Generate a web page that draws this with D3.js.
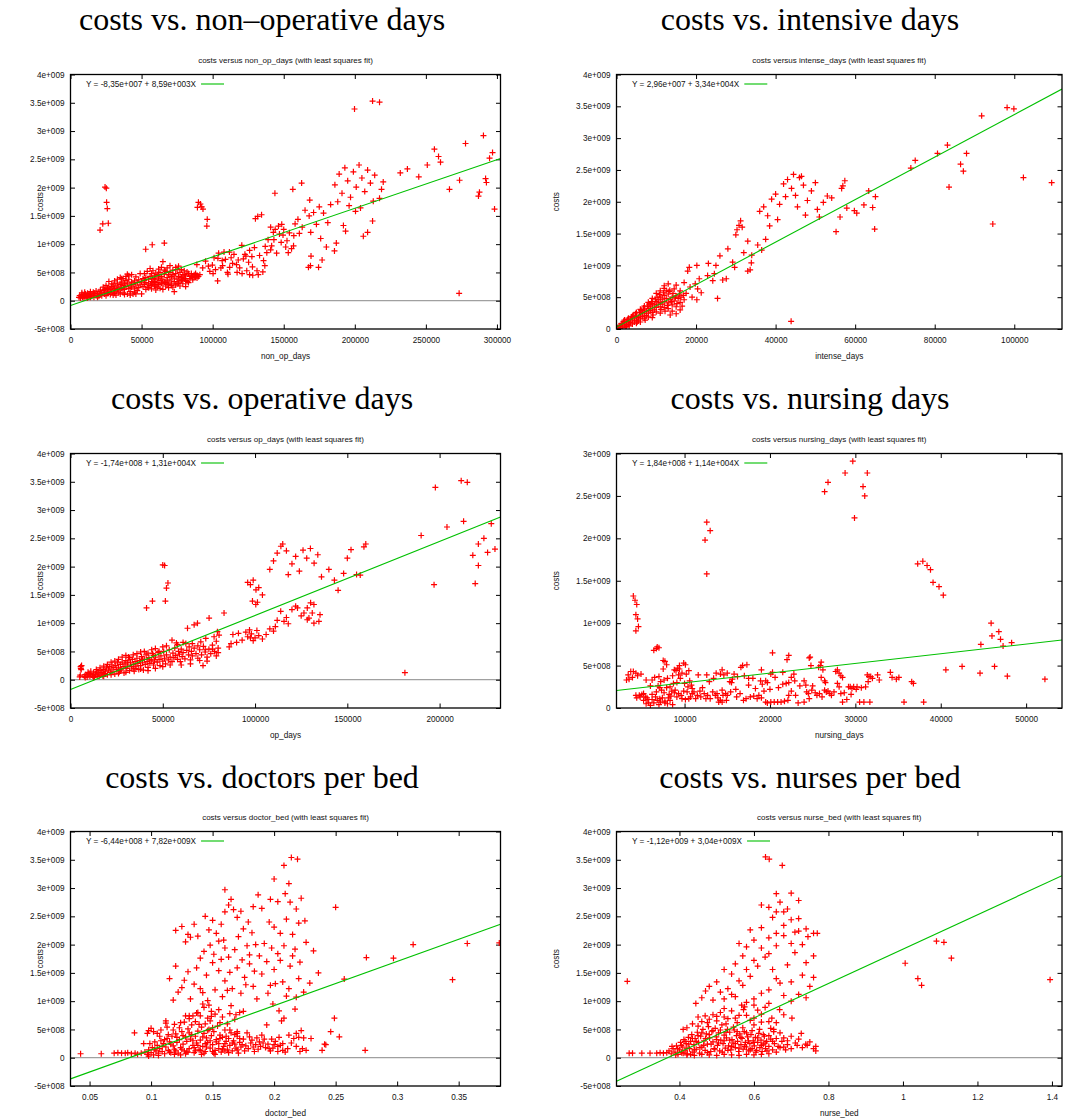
<!DOCTYPE html>
<html>
<head>
<meta charset="utf-8">
<script src="https://cdn.jsdelivr.net/npm/d3@7"></script>
<style>
  body { margin: 0; background: #fff; }
  svg text { font-family: "Liberation Sans", Arial, sans-serif; fill: #111; }
  .bigtitle { font-family: "Liberation Serif", "Times New Roman", serif; font-size: 32px; fill: #000; }
</style>
</head>
<body>
<svg id="chart" width="1071" height="1119"></svg>
<script>
// costs are kept in units of 1e8 in the point lists below

const costTicks = [-5e8, 0, 5e8, 1e9, 1.5e9, 2e9, 2.5e9, 3e9, 3.5e9, 4e9];
const costTickLabels = ['-5e+008', '0', '5e+008', '1e+009', '1.5e+009', '2e+009', '2.5e+009', '3e+009', '3.5e+009', '4e+009'];

const nonOpTicks = [0, 50000, 100000, 150000, 200000, 250000, 300000];
const intenseTicks = [0, 20000, 40000, 60000, 80000, 100000];
const opTicks = [0, 50000, 100000, 150000, 200000];
const nursingTicks = [10000, 20000, 30000, 40000, 50000];
const doctorTicks = [0.05, 0.1, 0.15, 0.2, 0.25, 0.3, 0.35];
const nurseTicks = [0.4, 0.6, 0.8, 1, 1.2, 1.4];

const nonOpDays = [
  [6000,0.6],[6500,0.9],[7000,0.5],[7500,0.8],[8000,1.1],[8500,0.6],[9000,0.9],[9500,0.5],[10000,0.8],[10500,1.2],
  [11000,0.6],[11500,0.9],[12000,0.5],[12500,1.1],[13000,0.7],[13500,1.0],[14000,0.6],[14500,1.2],[15000,0.8],[16000,1.0],
  [16500,0.6],[17000,1.3],[18000,0.9],
  [19000,1.2],[20000,0.8],[20000,1.6],[21000,1.1],[22000,1.4],[22000,0.9],[23000,1.8],[24000,1.2],[24000,2.0],[25000,1.5],
  [25000,0.9],[26000,2.2],[26000,1.3],[27000,1.7],[27000,3.4],[28000,2.0],[28000,1.1],[29000,2.5],[29000,1.5],[30000,1.9],
  [30000,2.8],[31000,1.3],[31000,2.2],[32000,2.6],[32000,1.7],[33000,3.1],[33000,2.0],[34000,1.5],[34000,2.4],[35000,2.9],
  [35000,1.9],[36000,3.3],[36000,2.2],[37000,1.4],[37000,2.7],[38000,3.0],[38000,2.0],[39000,3.6],[39000,2.5],[40000,1.2],
  [40000,3.1],[41000,2.2],[41000,3.8],[42000,2.8],[42000,1.6],[43000,3.3],[43000,2.4],[44000,1.2],[44000,2.9],[45000,3.5],
  [45000,2.1],[46000,2.6],[46000,1.2],[47000,3.2],[48000,2.3],[48000,3.7],[49000,2.8],[50000,3.3],[50000,1.2],[39000,4.3],
  [41000,4.4],[36000,3.9],
  [8000,1.4],[10000,1.5],[12000,1.3],[14000,1.6],[16000,1.5],[18000,1.7],[19000,0.6],[21000,1.9],[23000,2.4],[25000,2.7],
  [27000,2.4],[29000,3.0],[31000,3.5],[33000,3.8],[35000,4.1],[37000,3.9],[40000,4.7],[43000,4.6],[46000,4.2],[49000,4.8],
  [47000,1.8],[45000,1.5],[42000,1.0],[38000,1.1],[35000,1.2],[32000,1.0],[30000,1.0],
  [51000,2.5],[52000,3.6],[52000,2.9],[53000,4.1],[53000,3.2],[54000,2.4],[55000,3.8],[55000,3.0],[56000,4.3],[56000,2.7],
  [57000,3.4],[57000,4.8],[58000,3.9],[58000,2.9],[59000,4.4],[59000,3.4],[60000,3.8],[60000,2.6],[61000,4.6],[61000,3.2],
  [62000,4.0],[62000,2.9],[63000,5.0],[63000,3.6],[64000,4.3],[64000,3.1],[65000,6.9],[65000,3.8],[65000,2.0],[66000,4.7],
  [66000,3.3],[67000,5.2],[67000,2.6],[68000,4.1],[68000,3.5],[69000,4.6],[69000,2.9],[70000,5.0],[70000,3.7],[71000,4.3],
  [71000,3.1],[72000,5.4],[72000,2.4],[73000,4.0],[73000,3.4],[74000,4.8],[74000,2.8],[75000,5.5],[75000,3.8],[76000,4.3],
  [76000,3.1],[77000,5.0],[77000,2.6],[78000,4.1],[78000,3.6],[79000,4.6],[79000,3.0],[80000,5.3],[80000,3.9],[81000,4.4],
  [81000,2.5],[82000,3.4],[83000,4.8],[84000,3.9],[85000,4.4],[86000,4.1],[87000,4.6],[88000,4.2],[89000,4.5],[90000,4.3],
  [73000,1.6],[60000,1.9],
  [52000,4.8],[54000,5.2],[56000,5.7],[58000,5.3],[60000,4.9],[62000,5.6],[64000,5.9],[66000,5.4],[68000,5.8],[70000,6.2],
  [72000,4.6],[74000,5.9],[76000,6.1],[78000,5.5],[80000,4.6],[82000,5.1],[84000,4.3],[86000,3.7],[88000,4.8],[53000,2.0],
  [55000,2.3],[57000,2.1],[59000,2.6],[61000,2.4],[63000,2.2],[65000,3.0],[67000,3.2],[69000,2.3],[71000,2.7],[75000,3.0],
  [77000,3.5],[79000,3.8],[81000,3.6],[83000,3.2],[85000,4.8],[87000,4.2],[89000,4.0],[91000,4.6],[62000,4.6],[68000,2.9],
  [58000,3.2],[51000,3.9],
  [24300,20.1],[25200,19.9],[25400,17.4],[25900,16.3],[22700,13.6],[26600,13.7],[20800,12.5],[52900,9.1],[57500,9.9],[66000,10.2],
  [89300,16.5],[90000,17.4],[91400,17.1],[92300,16.6],[93200,16.2],[96200,14.4],[95900,13.2],[88900,6.4],[99800,6.3],[104200,8.4],
  [103700,7.5],[105800,5.8],[106700,7.1],[103500,3.5],[100300,4.8],[111800,8.6],[116800,6.4],[110400,5.0],[110800,4.7],[117200,5.0],
  [120700,4.8],[120500,9.8],[122700,8.2],[121600,7.4],[123400,7.9],[127600,7.8],[125300,6.8],[129400,9.4],[130100,14.5],[131700,14.9],
  [134400,15.2],[126000,4.6],[128200,4.5],[131200,5.3],[132100,4.6],[135300,5.1],[136700,6.2],[135800,7.1],[138100,8.5],[140800,9.0],
  [141500,9.7],[143100,10.8],[142700,12.1],[140800,13.0],[144000,12.6],[146300,13.2],[148600,13.5],[143800,19.0],[148200,10.3],[149500,11.6],
  [151400,9.5],[152300,10.6],[153200,8.5],[155500,9.2],[156900,9.7],[157100,11.5],[161000,11.9],[156400,19.7],[162600,20.8],[168300,17.8],
  [167900,15.0],[169000,12.1],[169200,7.9],[168800,6.2],[167400,5.9],
  [93000,5.8],[95000,7.0],[97000,6.1],[98000,5.2],[101000,7.6],[102000,5.5],[107000,6.2],[108000,8.6],[109000,7.3],[112000,5.9],
  [113000,7.6],[114000,6.6],[115000,8.2],[118000,7.2],[119000,5.8],[124000,5.3],[126000,8.9],[128000,6.0],[133000,8.0],[137000,9.6],
  [139000,10.8],[145000,8.4],[147000,11.8],[150000,12.6],[154000,12.0],[158000,13.6],[160000,14.4],[163000,13.0],[165000,16.0],[171000,15.6],
  [173000,13.5],[175000,16.6],
  [177000,7.2],[174500,5.9],[185700,8.8],[187000,10.2],[192000,13.3],[193500,12.3],[200500,15.8],[206000,11.4],[209000,12.1],[212500,14.1],
  [217400,18.1],[218800,19.7],[220000,21.0],[199800,33.9],[212500,35.3],[217400,35.1],
  [186000,20.5],[189000,22.4],[191000,19.0],[193000,23.5],[195000,21.2],[197000,18.3],[199000,22.8],[201000,20.1],[203000,24.0],[205000,21.7],
  [207000,19.3],[209000,23.1],[211000,20.8],[213000,17.6],[214000,22.2],[196000,16.8],[188000,17.5],[204000,16.4],
  [178000,15.5],[181000,13.8],[183000,17.0],[176000,11.0],[180000,9.5],
  [237000,23.3],[256000,26.8],[258900,25.5],[260300,24.5],[266600,19.7],[273700,21.3],[277900,27.8],[290500,29.2],[292000,21.6],[292600,20.9],
  [287700,19.2],[287000,18.5],[294800,25.2],[296900,26.2],[298300,16.2],[251000,24.0],[273400,1.3],[232000,22.6],[245000,21.9]
];

const intenseDays = [
  [500,0.2],[1000,0.5],[1000,0.1],[1500,0.8],[1500,0.3],[2000,0.6],[2000,1.1],[2500,0.4],[2500,0.9],[3000,1.2],
  [3000,0.7],[3500,1.0],[3500,1.5],[4000,1.3],[4000,0.8],[4500,1.7],[4500,1.1],[5000,1.4],[5000,2.0],[5000,0.9],
  [5500,1.8],[5500,1.3],[6000,2.2],[6000,1.6],[6000,1.1],[6500,2.0],[6500,2.6],[7000,1.7],[7000,2.4],[7000,3.0],
  [7500,2.1],[7500,2.8],[8000,2.5],[8000,3.2],[8000,1.9],[8500,2.9],[8500,3.6],[9000,2.6],[9000,3.3],[9000,4.0],
  [9500,3.0],[9500,3.8],[10000,3.4],[10000,4.3],[10000,2.7],[10500,3.9],[10500,4.6],[11000,3.5],[11000,4.2],[11000,5.0],
  [11500,3.9],[11500,4.7],[12000,4.3],[12000,5.3],[12000,3.4],[12500,4.8],[13000,4.1],[13000,5.5],[13500,4.6],[14000,5.0],
  [14000,3.8],[14500,4.4],[15000,5.2],[15500,4.8],[16000,4.2],[13000,3.2],[14000,2.8],[11000,2.5],[12500,6.0],[15000,3.5],
  [9000,1.8],[16500,3.6],[17000,4.6],
  [700,0.5],[1200,0.8],[1800,1.2],[2200,0.3],[2800,1.5],[3200,0.5],[3800,1.9],[4200,2.2],[4800,2.4],[5200,1.1],
  [5800,2.6],[6200,2.9],[6800,3.3],[7200,1.4],[7800,3.6],[8200,3.9],[8800,4.3],[9200,2.2],[9800,4.6],[10200,5.0],
  [10800,5.4],[11200,3.1],[11800,5.7],[12200,2.8],[12800,3.7],[13200,5.9],[13800,4.3],[14200,5.6],[14800,4.9],[15200,4.0],
  [15800,5.5],[16200,5.0],[16800,5.3],[7000,3.6],[8000,4.2],[9000,4.8],[10000,5.6],[11000,6.0],[6000,3.1],[5000,2.6],
  [4000,2.0],[3000,1.7],[2000,1.4],[12000,6.8],[13000,7.1],[14500,6.3],[16000,6.0],[17500,5.6],[18500,6.6],[19000,5.0],
  [17000,7.3],[16000,3.0],[15000,2.4],[13500,2.2],
  [12000,6.4],[15000,6.9],[13400,6.1],[18300,9.7],[17900,9.1],[20200,10.0],[19800,7.1],[20800,7.9],[20400,6.3],[20200,4.6],
  [21300,5.7],[23100,10.3],[22900,8.4],[24200,7.6],[25000,10.0],[24600,8.7],[25400,4.8],[26700,7.7],[27600,7.9],[29200,10.5],
  [29700,9.7],[33900,10.4],[33000,9.1],[33600,9.3],[43900,1.2],
  [26000,11.5],[28000,12.6],[30300,15.6],[30800,16.3],[31200,17.0],[31600,16.0],[30000,14.8],[32000,12.0],[34000,11.6],[35500,13.2],
  [36500,12.4],[37500,14.1],[33000,13.8],
  [36000,18.5],[37000,19.2],[38000,17.8],[39000,20.4],[40000,21.2],[41000,19.6],[42000,22.8],[43000,23.5],[44000,22.1],[45000,21.0],
  [46000,23.8],[47000,22.6],[48000,20.2],[49000,21.7],[50000,23.0],[50500,18.8],[51000,17.6],[52000,19.9],[53000,20.9],[45500,19.2],
  [47500,17.9],[42500,20.8],[40500,17.2],[38500,16.2],[44500,24.3],[46500,24.0],
  [54100,20.6],[57400,23.3],[56900,22.5],[56600,22.1],[56200,17.6],[55200,15.3],[57900,19.0],[59800,18.6],[60400,18.2],[62200,19.5],
  [63400,21.7],[64400,19.1],[65100,20.8],[64900,15.7],[74000,25.3],[75100,26.5],[80700,27.6],[83200,28.9],[83600,22.3],[86500,25.9],
  [87200,24.8],[88000,27.6],[91800,33.5],[94600,16.5],[98200,34.8],[99900,34.6],[102300,23.8],[109400,23.0]
];

const opDays = [
  [5500,2.3],[5800,1.8],[6000,2.5],[5000,0.5],[5300,0.8],[5600,2.0],
  [7500,0.6],[8000,0.9],[9000,0.5],[9500,0.8],[10000,1.1],[10500,0.6],[11000,0.9],[12000,0.7],[12500,1.2],[13000,0.5],
  [13500,1.0],[14000,1.4],[14500,0.8],[15000,1.2],[15500,0.6],[16000,1.6],[16500,1.0],[17000,1.3],[17500,0.7],[18000,1.8],
  [18500,1.1],[19000,1.5],[19500,2.1],[20000,0.9],[20500,1.7],[21000,2.3],[21500,1.3],[22000,1.9],[22500,2.6],[23000,1.5],
  [23500,2.2],[24000,1.0],[24500,2.5],[25000,1.8],[25500,3.0],[26000,2.1],[26500,1.4],[27000,2.7],[27500,1.9],[28000,3.1],
  [28500,2.3],[29000,1.2],[29500,2.8],[30000,3.4],[30500,2.0],[31000,2.6],[31500,4.0],[32000,1.6],[32500,3.0],[33000,2.3],
  [33500,3.6],[34000,2.7],[34500,1.5],[35000,3.2],[35500,2.4],[36000,3.8],[36500,2.9],[37000,1.8],[37500,3.4],[38000,2.5],
  [38500,4.1],[39000,3.0],[39500,1.7],[40000,3.6],[40500,2.7],[41000,4.4],[41500,3.2],[42000,2.2],[42500,3.9],[43000,2.9],
  [44000,3.5],[44500,4.6],[45000,2.6],[45500,3.3],[46000,4.0],[47000,3.1],[47500,4.8],[48000,3.6],[48500,2.5],[49000,4.2],
  [50000,3.3],[50500,5.0],[51000,3.8],[51500,2.8],
  [8000,0.4],[9500,1.3],[11000,1.5],[12500,0.4],[14000,1.8],[16000,2.1],[18000,2.4],[20000,2.7],[22000,3.1],[24000,3.3],
  [26000,3.6],[28000,4.0],[30000,4.3],[32000,3.9],[34000,4.4],[36000,4.6],[38000,4.9],[40000,5.0],[42000,4.7],[44000,5.3],
  [46000,5.5],[48000,5.0],[50000,5.8],[18000,0.6],[22000,0.9],[26000,1.1],[30000,1.3],[34000,1.9],[38000,1.9],[42000,1.6],
  [46000,2.0],[50000,2.3],[54000,2.6],[52000,6.0],[58000,6.2],[61000,6.6],[66000,6.4],[69000,6.0],[73000,5.3],[77000,5.4],
  [79000,6.8],[74000,3.3],[70000,3.4],[65000,2.8],[60000,2.6],[45000,4.3],[43000,3.5],[39000,3.6],[35000,2.0],[31000,3.1],
  [27000,1.7],
  [52000,4.4],[53000,3.5],[53500,5.3],[54000,4.0],[55000,3.2],[55000,7.0],[55500,4.7],[56000,3.9],[56500,5.6],[57000,4.3],
  [57400,6.5],[58000,3.6],[58500,5.0],[59000,4.5],[59500,3.2],[60000,5.4],[60500,4.1],[61000,4.8],[62000,3.7],[62500,6.4],
  [63000,5.2],[63400,9.1],[64000,4.4],[64300,5.8],[65000,3.5],[65500,5.0],[66000,4.2],[67000,9.7],[67000,5.6],[68000,4.6],
  [68800,10.0],[69000,3.8],[70000,5.3],[70600,6.7],[71000,4.4],[71800,2.5],[72000,5.9],[73000,4.9],[73300,7.3],[74000,4.0],
  [75000,5.4],[75100,10.9],[76000,4.6],[76900,6.1],[77800,7.6],[78000,5.0],[79000,4.2],[79600,8.5],[80000,5.6],[80500,7.9],
  [80000,4.8],[83200,11.8],
  [86000,5.8],[87000,6.4],[88000,8.0],[90000,6.6],[91000,8.2],[93000,7.0],[95000,8.4],[96000,7.6],[97000,8.8],[97500,7.4],
  [98000,8.1],[99000,6.9],[100000,7.4],[101000,8.7],[102000,7.8],[104000,7.2],[106000,8.0],[108000,9.0],[110000,8.6],[111000,9.4],
  [112000,10.5],[113900,12.1],[115700,10.3],[117000,11.0],[118000,9.9],[120000,12.4],[122000,13.0],[123000,12.7],[125000,11.3],[126500,11.8],
  [128300,10.6],[129200,10.9],[131000,11.8],[131900,10.0],[134600,10.3],[135200,11.5],[128300,12.7],[130100,13.6],[131900,13.3],[98600,13.9],
  [100400,13.3],[101300,13.7],[181200,1.25],
  [41200,12.7],[44400,13.9],[51400,13.9],[50000,20.3],[51000,20.2],[52000,16.2],[52800,17.1],
  [96000,17.2],[97500,16.8],[99000,17.6],[100500,15.9],[102000,16.3],[104000,15.0],
  [108000,19.5],[110000,21.0],[112000,22.4],[114000,23.6],[115000,24.0],[117000,22.8],[118000,18.6],[120000,20.5],[122000,21.8],[124000,19.2],
  [126000,22.9],[128000,21.5],[130000,23.2],[132000,20.6],[134000,22.1],[136000,18.2],
  [140000,19.5],[143000,17.6],[145000,15.8],[148000,18.8],[150000,21.5],[152000,23.0],[155000,18.6],[157000,18.5],[159000,23.5],[160000,24.0],
  [190000,25.5],[197700,34.0],[197000,16.8],[204000,27.0],[211700,35.2],[215000,34.9],[213000,28.0],[219300,17.0],[221000,24.0],[224000,25.0],
  [226000,22.5],[228000,27.6],[230000,23.1],[221000,20.2],[218000,22.0]
];

const nursingDays = [
  [3200,3.3],[3500,3.4],[3700,4.3],[4000,4.3],[4300,4.1],[3900,3.6],[4500,3.8],[3400,3.9],
  [4300,1.5],[4700,1.5],[5000,1.6],[5200,1.7],[4400,1.2],[4800,1.3],[5400,1.3],[5600,1.2],
  [5500,0.5],[5800,0.6],[6000,0.3],[6400,0.6],[6600,1.3],[6800,0.9],[7100,1.1],[7200,0.7],[7400,1.2],[6200,1.0],
  [7000,0.4],[7700,0.8],[8000,0.5],[8300,0.9],[8600,0.4],
  [6400,6.8],[6700,7.0],[6800,7.2],[7000,7.1],[7500,5.6],[7700,5.5],[7900,5.1],[7500,4.6],
  [6500,3.6],[7000,3.7],[7200,3.1],[6200,3.3],[6900,2.6],[7300,2.1],[7600,1.8],[7900,2.4],[8200,1.6],[8500,2.0],
  [8800,4.5],[9000,4.4],[9200,4.7],[9400,4.6],[9300,3.9],[9700,4.1],[9500,3.5],[9900,5.3],
  [8300,2.5],[8700,2.9],[8900,2.1],[9100,3.0],[9400,5.0],[10100,5.1],
  [10000,2.9],[10400,2.5],[10600,3.2],[10900,2.3],[9100,1.3],[9700,1.1],[10100,1.0],[10500,1.1],[10700,1.3],
  [11600,3.9],[12600,3.9],[10900,1.7],[11100,1.9],[11500,1.5],[11900,1.3],[12300,1.7],[12500,1.1],
  [13000,1.1],[13600,1.5],[13800,1.7],[14400,2.1],[14800,1.7],[15000,1.5],[15400,1.9],
  [14200,4.0],[14400,4.5],[14600,3.9],[15000,4.1],[15300,3.1],[15600,3.4],[15800,4.0],[16200,3.7],[16600,4.8],[16800,5.0],[17300,5.1],
  [14200,0.9],[14000,0.7],[14400,0.7],
  [16900,0.9],[17200,1.1],[17700,1.3],[18100,1.4],[18500,1.1],[18700,1.5],
  [18900,3.2],[19100,2.8],[19500,3.2],[19700,3.0],[20100,4.0],[20300,4.2],
  [19500,0.7],[19700,0.6],[20100,0.7],[20500,0.7],[20900,0.7],[21300,0.7],[21700,0.8],[22100,0.9],[22200,1.5],
  [20300,6.5],[22000,5.7],[22200,6.2],
  [21500,2.8],[21900,2.9],[22200,3.0],[22500,3.6],[22900,3.2],[22800,4.0],
  [23300,0.6],[24000,0.7],[24600,1.1],
  [24600,5.9],[24700,6.0],[24800,5.0],[25900,5.0],[26000,5.4],
  [24300,1.9],[24500,1.7],[24900,2.1],[25300,1.8],[25500,1.5],[25800,1.7],[26100,1.3],[26400,2.1],[26600,1.9],[26800,2.0],[27000,1.7],
  [26500,3.0],[26400,3.2],
  [27700,4.3],[27900,4.5],[28100,4.1],[28300,3.8],[28500,3.6],
  [27900,2.9],[28100,2.5],[28300,1.7],[28500,0.7],
  [29200,2.5],[29400,2.5],[29600,2.3],[29800,2.5],[30200,2.5],
  [30500,0.7],[31000,0.7],[31700,0.7],
  [31400,3.9],[31600,3.7],[31800,3.7],[32000,3.5],[32600,3.9],[32800,3.3],
  [34100,4.2],[34300,3.6],[34800,3.4],[35100,3.6],
  [35700,0.7],[36600,3.1],[36800,2.9],[38000,0.7],
  [5200,0.9],[5700,1.0],[6200,1.6],[6700,1.9],[7100,2.4],[7700,0.6],[8100,1.2],[8400,1.4],[8800,1.8],[9300,1.7],
  [9600,1.5],[9900,2.0],[10300,1.9],[10800,2.7],[11300,1.1],[11800,2.0],[12100,2.4],[12700,1.5],[13300,1.9],[13900,1.2],
  [14500,1.5],[14900,0.9],[15500,3.0],[16100,1.3],[16500,1.7],[17000,3.8],[17500,3.5],[18000,3.5],[18300,2.3],[19000,1.2],
  [19300,2.0],[20600,3.6],[21000,2.4],[21500,4.2],[23000,1.5],[23500,2.6],[24000,3.2],[24200,2.7],[25000,2.6],[25700,4.8],
  [26200,4.5],[27200,1.5],[27500,1.9],[28700,1.8],[29000,1.0],[29500,1.6],[30100,2.2],[30700,2.4],[31200,2.5],[31500,3.1],
  [7600,3.3],[8000,3.5],[8600,3.8],[10200,4.0],[10500,4.4],[12900,3.1],[13400,3.5],[13700,4.1],[4900,4.0],[5500,3.3],
  [6000,2.6],[16000,2.2],[17500,2.7],[20000,2.2],[19000,4.5],[26000,3.6],[22500,2.0],
  [40600,4.5],[42500,4.9],[44600,4.1],[44700,7.5],[46300,4.9],[47300,7.3],[47800,3.75],[48300,7.7],[52200,3.4],
  [12600,21.9],[13000,20.9],[12400,19.8],[12600,15.8],[26400,25.5],[26800,26.6],[28800,27.7],[29700,29.1],[30900,26.1],[31100,25.0],
  [31400,27.7],[29900,22.4],
  [4000,13.2],[4200,12.7],[4400,12.2],[4300,11.0],[4500,10.5],[4600,9.6],[4300,9.1],
  [37300,17.0],[37900,17.3],[38400,16.8],[38800,16.3],[39100,14.8],[39800,14.3],[40300,13.3],
  [45900,10.0],[46800,9.0],[47000,8.1],[46000,8.5]
];

const doctorBed = [
  [0.0427,0.7],[0.0595,0.7],[0.070,0.8],[0.073,0.9],[0.076,0.8],[0.079,0.8],[0.081,0.9],[0.084,0.7],[0.087,0.8],[0.089,0.6],
  [0.092,0.8],[0.0865,4.4],[0.097,4.3],[0.098,4.8],[0.100,5.2],[0.102,4.6],[0.105,4.3],[0.107,3.8],[0.094,2.5],[0.099,2.5],
  [0.103,2.8],[0.112,6.5],[0.112,6.1],[0.128,7.4],[0.131,7.4],[0.134,7.4],[0.137,7.9],[0.138,8.0],[0.140,7.4],
  [0.095,1.0],[0.097,0.6],[0.098,1.4],[0.100,0.9],[0.101,1.8],[0.102,0.5],[0.104,1.2],[0.105,2.2],[0.106,0.8],[0.107,1.6],
  [0.108,3.0],[0.109,1.1],[0.110,2.5],[0.111,0.7],[0.112,1.9],[0.113,3.4],[0.114,1.3],[0.115,2.8],[0.116,0.9],[0.117,3.8],
  [0.118,2.1],[0.119,1.5],[0.120,4.2],[0.121,2.7],[0.122,0.8],[0.123,3.2],[0.124,1.8],[0.125,4.6],[0.126,2.4],[0.127,1.2],
  [0.128,3.7],[0.129,2.9],[0.130,5.1],[0.131,1.6],[0.132,3.3],[0.133,4.1],[0.134,2.2],[0.135,0.9],[0.136,3.8],[0.137,2.6],
  [0.138,4.7],[0.139,1.4],[0.140,3.1],[0.141,5.4],[0.142,2.0],[0.143,4.3],[0.144,1.1],[0.145,3.5],[0.146,2.7],[0.147,5.0],
  [0.148,1.7],[0.149,3.9],[0.150,2.3],[0.151,4.6],[0.152,1.3],[0.153,3.2],[0.154,5.6],[0.155,2.5],[0.156,4.0],[0.157,1.0],
  [0.158,3.6],[0.159,2.0],[0.160,4.9],[0.161,2.9],[0.162,1.5],[0.163,3.4],[0.164,2.2],[0.165,4.4],[0.166,1.2],[0.167,3.0],
  [0.168,2.4],[0.169,1.7],[0.170,3.8],[0.171,0.8],[0.172,2.7],[0.173,1.9],[0.175,3.3],
  [0.115,1.0],[0.12,1.2],[0.125,1.5],[0.13,1.0],[0.135,1.8],[0.14,1.3],[0.145,1.9],[0.15,1.1],[0.155,1.6],[0.16,1.2],
  [0.128,0.7],[0.143,0.8],[0.152,0.6],[0.118,4.9],[0.123,5.3],[0.133,5.8],[0.144,6.0],[0.148,6.5],[0.156,6.2],[0.162,6.0],
  [0.139,5.9],[0.127,6.3],
  [0.098,0.3],[0.103,1.5],[0.106,0.4],[0.109,2.0],[0.111,3.2],[0.114,4.1],[0.116,2.4],[0.119,0.6],[0.121,3.6],[0.124,0.5],
  [0.126,3.9],[0.129,1.0],[0.131,4.4],[0.134,3.0],[0.136,1.2],[0.138,2.2],[0.141,0.6],[0.142,3.7],[0.144,2.5],[0.146,4.8],
  [0.148,3.0],[0.15,5.3],[0.151,0.8],[0.153,2.8],[0.156,3.4],[0.158,1.5],[0.16,2.5],[0.161,3.8],[0.163,0.9],[0.164,4.9],
  [0.166,2.6],[0.168,4.1],[0.17,1.4],[0.172,3.4],[0.174,2.3],[0.176,1.2],[0.178,4.4],[0.182,3.1],[0.184,1.1],[0.188,2.8],
  [0.192,3.3],[0.196,1.6],[0.2,2.3],[0.203,2.0],[0.211,1.6],[0.214,2.6],[0.218,2.0],[0.221,1.1],[0.108,4.9],[0.113,5.4],
  [0.119,5.9],[0.124,6.2],[0.131,6.9],[0.136,6.4],[0.146,7.0],[0.152,7.7],[0.158,7.2],[0.164,7.8],[0.168,6.8],
  [0.177,2.1],[0.179,1.6],[0.181,2.6],[0.183,1.9],[0.185,2.3],[0.187,1.5],[0.189,2.0],[0.191,2.6],[0.193,1.8],[0.195,2.4],
  [0.197,1.2],[0.199,1.7],[0.201,2.9],[0.203,1.1],[0.205,2.2],[0.207,1.3],[0.209,1.0],[0.180,3.7],[0.186,3.5],[0.190,4.0],
  [0.194,5.8],[0.198,3.3],[0.204,3.6],[0.206,6.5],[0.208,7.0],[0.207,2.5],[0.212,4.0],[0.216,3.4],[0.218,4.3],[0.220,3.6],
  [0.222,4.8],[0.224,3.5],[0.223,1.6],[0.226,1.3],[0.230,3.4],[0.239,1.3],[0.241,2.4],[0.242,2.3],[0.246,4.6],[0.249,7.0],
  [0.253,3.7],[0.274,1.3],
  [0.199,9.5],[0.204,8.3],[0.217,8.6],[0.143,8.9],[0.142,9.5],[0.147,9.3],[0.149,8.2],[0.149,7.3],[0.155,8.5],[0.165,9.2],
  [0.169,7.6],[0.172,8.0],[0.175,8.2],[0.170,4.3],[0.170,4.6],
  [0.214,35.4],[0.219,35.1],[0.208,34.0],[0.209,29.0],[0.213,27.5],[0.218,26.3],[0.222,28.2],[0.187,28.8],[0.19,26.4],[0.196,24.0],
  [0.2,23.1],[0.205,22.0],[0.21,24.5],[0.215,21.8],[0.22,23.8],[0.225,24.2],
  [0.12,22.5],[0.125,23.2],[0.13,21.8],[0.132,21.3],[0.128,20.5],[0.135,23.6],
  [0.147,22.6],[0.15,24.3],[0.153,22.0],[0.155,20.6],[0.16,19.4],[0.163,27.0],[0.165,28.0],[0.167,26.2],[0.17,24.8],[0.175,22.8],
  [0.178,19.8],[0.18,18.2],[0.185,20.0],
  [0.115,14.0],[0.12,16.2],[0.125,12.4],[0.13,15.2],[0.135,13.0],[0.14,17.6],[0.142,11.5],[0.145,14.6],[0.15,16.8],[0.152,12.0],
  [0.155,15.4],[0.158,10.8],[0.16,13.6],[0.163,17.8],[0.166,12.2],[0.17,15.9],[0.173,11.4],[0.176,14.2],[0.18,16.6],[0.183,12.6],
  [0.186,10.4],[0.19,14.8],[0.194,17.0],[0.197,12.8],[0.2,15.6],[0.203,18.4],[0.207,13.4],[0.21,10.9],[0.213,16.2],[0.217,19.2],
  [0.22,14.0],[0.224,11.6],
  [0.118,10.2],[0.122,11.6],[0.127,13.7],[0.132,10.4],[0.137,15.9],[0.14,12.2],[0.143,18.8],[0.146,10.1],[0.148,19.9],[0.151,18.3],
  [0.157,17.4],[0.159,20.8],[0.162,11.9],[0.164,15.1],[0.168,19.1],[0.171,21.4],[0.174,17.3],[0.177,12.9],[0.179,24.0],[0.182,22.1],
  [0.184,15.3],[0.188,18.0],[0.192,20.2],[0.195,11.4],[0.198,19.4],[0.201,13.1],[0.205,17.2],[0.208,19.8],[0.212,12.2],[0.215,18.0],
  [0.218,10.7],[0.221,16.9],[0.226,20.4],[0.229,13.2],[0.232,18.9],[0.138,21.5],[0.144,25.0],[0.157,23.6],[0.16,25.8],[0.173,25.9],
  [0.183,26.7],[0.197,28.0],[0.203,27.6],[0.212,30.8],[0.2,31.6],[0.16,29.7],
  [0.236,15.0],[0.25,26.6],[0.257,13.9],[0.275,17.7],[0.297,17.6],[0.313,20.0],[0.345,13.8],[0.357,20.2],[0.383,20.3]
];

const nurseBed = [
  [0.265,0.8],[0.274,0.8],[0.299,0.8],[0.321,0.8],[0.339,0.8],[0.348,0.9],[0.357,0.8],[0.26,13.5],
  [0.366,0.9],[0.372,1.2],[0.378,0.7],[0.383,1.6],[0.388,1.0],[0.392,2.1],[0.396,0.6],[0.4,1.4],[0.403,2.7],[0.406,0.9],
  [0.409,1.9],[0.412,3.2],[0.415,1.2],[0.418,2.5],[0.421,0.7],[0.424,3.6],[0.427,1.6],[0.43,2.9],[0.433,4.1],[0.436,1.0],
  [0.439,2.3],[0.442,3.4],[0.445,1.5],[0.448,4.5],[0.451,2.7],[0.454,0.8],[0.457,3.8],[0.46,1.9],[0.463,5.0],[0.466,3.0],
  [0.469,1.3],[0.472,4.2],[0.475,2.4],[0.478,5.5],[0.481,3.5],[0.484,1.1],[0.487,4.7],[0.49,2.8],[0.493,1.6],[0.496,5.2],
  [0.499,3.7],[0.502,2.2],[0.505,4.4],[0.508,1.2],[0.511,3.1],[0.514,5.8],[0.517,2.5],[0.52,4.0],[0.523,1.7],[0.526,3.5],
  [0.529,5.0],[0.532,2.1],[0.535,4.5],[0.538,1.4],[0.541,3.2],[0.544,2.6],[0.547,4.9],[0.55,1.8],[0.553,3.9],[0.556,2.9],
  [0.559,1.1],[0.562,4.2],[0.565,2.3],[0.568,3.4],[0.571,1.5],[0.574,4.6],[0.577,2.7],[0.58,1.9],[0.583,3.7],[0.586,1.2],
  [0.589,2.5],[0.592,4.1],[0.595,1.6],[0.598,3.0],[0.601,2.1],[0.604,3.6],[0.607,1.3],[0.61,2.7],[0.613,4.3],[0.616,1.8],
  [0.619,3.1],[0.622,1.1],[0.625,2.4],[0.628,3.8],[0.631,1.6],[0.634,2.9],[0.64,2.0],[0.645,3.3],[0.65,1.4],[0.655,2.5],
  [0.66,1.0],[0.653,4.6],[0.653,5.0],
  [0.38,2.0],[0.39,0.5],[0.395,1.6],[0.405,2.2],[0.41,0.8],[0.415,2.9],[0.42,1.7],[0.425,2.4],[0.43,0.6],[0.435,3.4],
  [0.44,1.4],[0.445,2.9],[0.45,3.9],[0.455,1.8],[0.46,4.4],[0.465,2.2],[0.47,3.4],[0.475,0.9],[0.48,4.1],[0.485,2.4],
  [0.49,4.8],[0.495,1.5],[0.5,3.2],[0.505,2.6],[0.51,4.9],[0.515,1.0],[0.52,3.0],[0.525,4.5],[0.53,1.3],[0.535,3.1],
  [0.54,2.0],[0.545,5.4],[0.55,2.5],[0.555,4.6],[0.56,1.7],[0.565,3.6],[0.57,5.3],[0.575,2.0],[0.58,4.4],[0.585,3.0],
  [0.59,1.4],[0.595,4.8],[0.6,2.7],[0.605,1.0],[0.61,3.5],[0.615,5.0],[0.62,2.2],[0.625,4.1],[0.63,2.6],[0.635,1.2],
  [0.64,3.9],[0.645,5.2],[0.65,2.9],[0.66,3.4],[0.665,2.0],[0.67,4.4],[0.68,1.9],[0.69,3.0],[0.7,1.6],[0.72,3.3],
  [0.73,1.8],[0.75,2.8],[0.76,1.6],[0.48,6.8],[0.5,7.3],[0.53,6.9],[0.56,7.5],[0.6,7.0],[0.62,6.3],[0.66,6.2],
  [0.45,7.2],[0.52,8.7],[0.58,9.8],[0.6,9.3],[0.64,9.6],[0.68,7.6],
  [0.42,0.5],[0.44,0.4],[0.46,0.6],[0.48,0.5],[0.5,0.4],[0.52,0.6],[0.54,0.5],[0.56,0.4],[0.58,0.6],[0.6,0.5],
  [0.62,0.6],[0.64,0.7],
  [0.41,5.0],[0.42,5.3],[0.435,6.0],[0.444,9.6],[0.45,5.6],[0.46,6.4],[0.469,7.4],[0.475,6.2],[0.49,7.6],[0.5,6.5],
  [0.51,8.0],[0.52,7.2],[0.525,6.0],[0.54,8.3],[0.55,7.0],[0.555,6.2],[0.567,9.3],[0.572,8.5],[0.575,9.0],[0.58,7.5],
  [0.59,6.6],[0.6,5.8],[0.61,8.4],[0.62,7.7],[0.63,8.9],[0.64,6.4],[0.648,7.0],[0.669,8.5],[0.702,7.0],[0.727,4.3],
  [0.711,2.6],[0.716,2.2],[0.739,2.4],[0.743,2.2],[0.766,1.2],[0.766,2.0],[0.68,3.5],[0.69,2.3],[0.7,3.8],[0.67,1.8],
  [0.675,2.9],[0.685,1.4],
  [0.631,35.5],[0.641,35.1],[0.676,34.0],[0.66,29.0],[0.67,27.5],[0.68,25.8],[0.69,26.3],[0.7,24.4],[0.71,22.2],[0.72,22.4],
  [0.73,20.0],[0.745,21.4],[0.76,22.0],[0.65,24.8],[0.66,22.0],[0.64,21.2],[0.62,23.0],[0.6,20.8],[0.59,22.6],[0.58,19.6],
  [0.57,18.0],[0.56,20.2],[0.55,16.6],[0.54,14.8],[0.52,15.6],[0.5,13.4],[0.48,12.6],[0.46,10.6],[0.47,11.8],[0.49,10.2],
  [0.51,11.6],[0.53,12.2],[0.55,10.8],[0.57,12.8],[0.59,14.4],[0.61,16.2],[0.63,17.8],[0.65,15.6],[0.67,13.2],[0.69,16.4],
  [0.71,18.6],[0.73,14.6],[0.75,12.6],[0.62,11.4],[0.6,10.4],[0.64,12.0],[0.68,11.0],[0.7,10.0],[0.76,18.0],[0.74,16.8],
  [0.52,10.4],[0.54,11.2],[0.56,13.6],[0.58,15.6],[0.6,17.2],[0.62,19.4],[0.64,18.4],[0.66,19.8],[0.68,21.6],[0.7,20.2],
  [0.72,24.6],[0.74,22.8],[0.77,22.0],[0.68,23.4],[0.66,25.8],[0.64,26.6],[0.62,27.0],[0.7,29.1],[0.72,27.8],[0.66,14.0],
  [0.7,13.4],[0.72,11.2],[0.74,10.6],[0.76,14.2],
  [1.006,16.7],[1.04,14.0],[1.05,12.8],[1.09,20.6],[1.11,20.4],[1.13,17.6],[1.395,13.8]
];

const panels = [
  { title: 'costs vs. non\u2013operative days', sub: 'costs versus non_op_days (with least squares fit)', xlab: 'non_op_days',
    eq: 'Y = -8,35e+007 + 8,59e+003X', a: -8.35e7, b: 8.59e3, pts: nonOpDays, xDom: [0, 302500], yDom: [-5e8, 4e9],
    xTicks: nonOpTicks, col: 0, row: 0 },
  { title: 'costs vs. intensive days', sub: 'costs versus intense_days (with least squares fit)', xlab: 'intense_days',
    eq: 'Y = 2,96e+007 + 3,34e+004X', a: 2.96e7, b: 3.34e4, pts: intenseDays, xDom: [0, 112000], yDom: [0, 4e9],
    xTicks: intenseTicks, col: 1, row: 0 },
  { title: 'costs vs. operative days', sub: 'costs versus op_days (with least squares fit)', xlab: 'op_days',
    eq: 'Y = -1,74e+008 + 1,31e+004X', a: -1.74e8, b: 1.31e4, pts: opDays, xDom: [0, 233000], yDom: [-5e8, 4e9],
    xTicks: opTicks, col: 0, row: 1 },
  { title: 'costs vs. nursing days', sub: 'costs versus nursing_days (with least squares fit)', xlab: 'nursing_days',
    eq: 'Y = 1,84e+008 + 1,14e+004X', a: 1.84e8, b: 1.14e4, pts: nursingDays, xDom: [2030, 54200], yDom: [0, 3e9],
    xTicks: nursingTicks, col: 1, row: 1 },
  { title: 'costs vs. doctors per bed', sub: 'costs versus doctor_bed (with least squares fit)', xlab: 'doctor_bed',
    eq: 'Y = -6,44e+008 + 7,82e+009X', a: -6.44e8, b: 7.82e9, pts: doctorBed, xDom: [0.0345, 0.384], yDom: [-5e8, 4e9],
    xTicks: doctorTicks, col: 0, row: 2 },
  { title: 'costs vs. nurses per bed', sub: 'costs versus nurse_bed (with least squares fit)', xlab: 'nurse_bed',
    eq: 'Y = -1,12e+009 + 3,04e+009X', a: -1.12e9, b: 3.04e9, pts: nurseBed, xDom: [0.231, 1.427], yDom: [-5e8, 4e9],
    xTicks: nurseTicks, col: 1, row: 2 }
];

const svg = d3.select('#chart');
const rowTop = [74.5, 453.5, 831.5];
const titleBase = [30, 409, 787.5];
const plotH = 254.5;
const red = '#ff0000';
const green = '#00c000';

panels.forEach((p, k) => {
  const left = p.col ? 616.5 : 70.5;
  const right = p.col ? 1062 : 500.5;
  const top = rowTop[p.row];
  const bottom = top + plotH;

  const x = d3.scaleLinear().domain(p.xDom).range([left, right]);
  const y = d3.scaleLinear().domain(p.yDom).range([bottom, top]);

  // big heading
  svg.append('text')
    .attr('class', 'bigtitle')
    .attr('x', p.col ? 810 : 262)
    .attr('y', titleBase[p.row])
    .attr('text-anchor', 'middle')
    .text(p.title);

  // small gnuplot title
  svg.append('text')
    .attr('x', (left + right) / 2)
    .attr('y', top - 11.5)
    .attr('text-anchor', 'middle')
    .style('font-size', '8px')
    .text(p.sub);

  const yt = costTicks.filter(v => v >= p.yDom[0] && v <= p.yDom[1]);
  const ytLab = v => costTickLabels[costTicks.indexOf(v)];

  const g = svg.append('g');

  // zero line
  if (p.yDom[0] < 0) {
    g.append('line')
      .attr('x1', left).attr('x2', right)
      .attr('y1', y(0)).attr('y2', y(0))
      .attr('stroke', '#a0a0a0')
      .attr('stroke-width', 1.2);
  }

  // axes, gnuplot style: inward ticks mirrored on all sides
  const axes = [
    g.append('g').attr('transform', `translate(0,${bottom})`)
      .call(d3.axisBottom(x).tickValues(p.xTicks).tickSizeInner(-4.5).tickSizeOuter(0).tickPadding(8)
        .tickFormat(d3.format(''))),
    g.append('g').attr('transform', `translate(0,${top})`)
      .call(d3.axisTop(x).tickValues(p.xTicks).tickSizeInner(-4.5).tickSizeOuter(0).tickFormat('')),
    g.append('g').attr('transform', `translate(${left},0)`)
      .call(d3.axisLeft(y).tickValues(yt).tickSizeInner(-4.5).tickSizeOuter(0).tickPadding(6).tickFormat(ytLab)),
    g.append('g').attr('transform', `translate(${right},0)`)
      .call(d3.axisRight(y).tickValues(yt).tickSizeInner(-4.5).tickSizeOuter(0).tickFormat(''))
  ];
  axes.forEach(a => {
    a.select('.domain').remove();
    a.selectAll('line').attr('stroke', '#000');
    a.selectAll('text').style('font-size', '8.2px').style('font-family', '"Liberation Sans", Arial, sans-serif').attr('fill', '#111');
  });

  // axis labels
  svg.append('text')
    .attr('x', (left + right) / 2)
    .attr('y', bottom + 30)
    .attr('text-anchor', 'middle')
    .style('font-size', '8.2px')
    .text(p.xlab);
  const ylx = left - (p.col ? 58 : 28);
  svg.append('text')
    .attr('transform', `translate(${ylx},${(top + bottom) / 2}) rotate(-90)`)
    .attr('text-anchor', 'middle')
    .style('font-size', '8.2px')
    .text('costs');

  // clip for marks
  svg.append('clipPath').attr('id', 'clip' + k)
    .append('rect').attr('x', left).attr('y', top).attr('width', right - left).attr('height', plotH);
  const plot = svg.append('g').attr('clip-path', `url(#clip${k})`);

  // points
  plot.selectAll('path.pt')
    .data(p.pts)
    .enter()
    .append('path')
    .attr('class', 'pt')
    .attr('d', d => {
      const cx = x(d[0]), cy = y(d[1] * 1e8);
      return `M${cx - 3},${cy}H${cx + 3}M${cx},${cy - 3}V${cy + 3}`;
    })
    .attr('stroke', red)
    .attr('stroke-width', 1.2)
    .attr('fill', 'none');

  // least squares fit line
  plot.append('line')
    .attr('x1', x(p.xDom[0])).attr('y1', y(p.a + p.b * p.xDom[0]))
    .attr('x2', x(p.xDom[1])).attr('y2', y(p.a + p.b * p.xDom[1]))
    .attr('stroke', green)
    .attr('stroke-width', 1.1);

  // border
  svg.append('rect')
    .attr('x', left).attr('y', top)
    .attr('width', right - left).attr('height', plotH)
    .attr('fill', 'none')
    .attr('stroke', '#000')
    .attr('stroke-width', 1.3);

  // key
  const key = svg.append('text')
    .attr('x', left + 15.5)
    .attr('y', top + 12.5)
    .style('font-size', '8.2px')
    .text(p.eq);
  const kw = key.node().getComputedTextLength();
  svg.append('line')
    .attr('x1', left + 15.5 + kw + 5).attr('x2', left + 15.5 + kw + 28)
    .attr('y1', top + 9.5).attr('y2', top + 9.5)
    .attr('stroke', green)
    .attr('stroke-width', 1.1);
});
</script>
</body>
</html>
